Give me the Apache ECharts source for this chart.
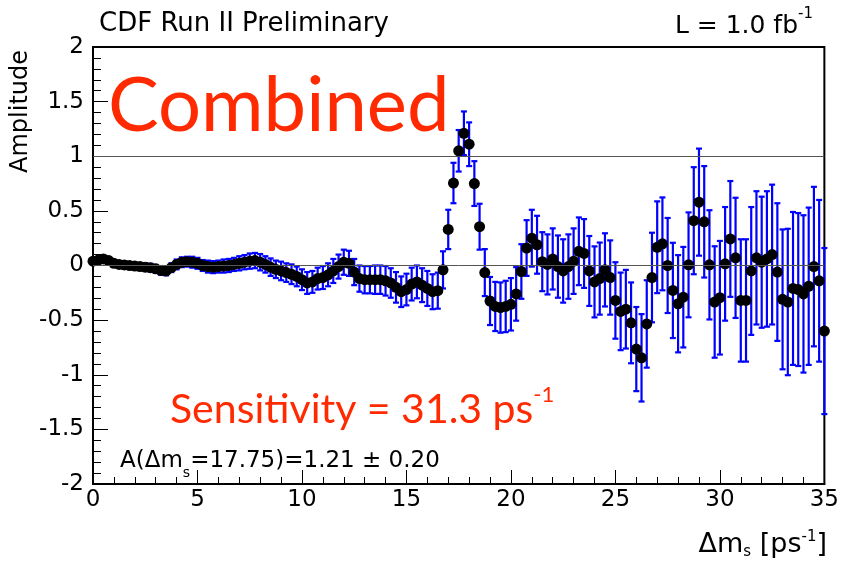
<!DOCTYPE html>
<html>
<head>
<meta charset="utf-8">
<script src="https://cdn.jsdelivr.net/npm/echarts@6/dist/echarts.min.js"></script>
<style>
html,body{margin:0;padding:0;background:#fff;}
#chart{width:842px;height:568px;}
</style>
</head>
<body>
<div id="chart"></div>
<script>
// Δm_s values (ps^-1)
const dms = [
  0.00,0.25,0.50,0.75,1.00,1.25,1.50,1.75,2.00,2.25,2.50,2.75,3.00,3.25,3.50,3.75,
  4.00,4.25,4.50,4.75,5.00,5.25,5.50,5.75,6.00,6.25,6.50,6.75,7.00,7.25,7.50,7.75,
  8.00,8.25,8.50,8.75,9.00,9.25,9.50,9.75,10.00,10.25,10.50,10.75,11.00,11.25,11.50,11.75,
  12.00,12.25,12.50,12.75,13.00,13.25,13.50,13.75,14.00,14.25,14.50,14.75,15.00,15.25,15.50,15.75,
  16.00,16.25,16.50,16.75,17.00,17.25,17.50,17.75,18.00,18.25,18.50,18.75,19.00,19.25,19.50,19.75,
  20.00,20.25,20.50,20.75,21.00,21.25,21.50,21.75,22.00,22.25,22.50,22.75,23.00,23.25,23.50,23.75,
  24.00,24.25,24.50,24.75,25.00,25.25,25.50,25.75,26.00,26.25,26.50,26.75,27.00,27.25,27.50,27.75,
  28.00,28.25,28.50,28.75,29.00,29.25,29.50,29.75,30.00,30.25,30.50,30.75,31.00,31.25,31.50,31.75,
  32.00,32.25,32.50,32.75,33.00,33.25,33.50,33.75,34.00,34.25,34.50,34.75,35.00
];
// Amplitude values
const amplitude = [
  0.04,0.05,0.06,0.045,0.02,0.01,0.005,0.0,-0.005,-0.01,-0.015,-0.02,-0.03,-0.045,-0.05,-0.02,
  0.01,0.03,0.035,0.03,0.02,0.0,-0.01,-0.015,-0.01,-0.005,0.0,0.01,0.02,0.03,0.04,0.045,
  0.03,0.01,-0.015,-0.035,-0.05,-0.065,-0.08,-0.1,-0.13,-0.16,-0.15,-0.12,-0.11,-0.085,-0.05,-0.01,
  0.03,0.02,-0.06,-0.12,-0.13,-0.13,-0.13,-0.13,-0.14,-0.16,-0.2,-0.24,-0.22,-0.17,-0.15,-0.18,
  -0.21,-0.24,-0.23,-0.04,0.33,0.755,1.05,1.21,1.11,0.75,0.355,-0.065,-0.325,-0.375,-0.385,-0.375,
  -0.355,-0.26,-0.055,0.16,0.25,0.19,0.035,0.01,0.06,-0.01,-0.05,-0.01,0.04,0.13,0.11,-0.05,
  -0.15,-0.12,-0.04,-0.11,-0.32,-0.42,-0.40,-0.525,-0.765,-0.845,-0.535,-0.11,0.167,0.198,0.0,-0.228,
  -0.35,-0.29,0.006,0.41,0.58,0.40,0.006,-0.334,-0.295,0.015,0.243,0.07,-0.32,-0.32,-0.05,0.07,
  0.03,0.06,0.10,-0.06,-0.31,-0.334,-0.21,-0.22,-0.26,-0.19,-0.01,-0.14,-0.60
];
// Amplitude uncertainties (±1σ)
const sigma = [
  0.02,0.02,0.02,0.025,0.025,0.025,0.03,0.03,0.03,0.03,0.035,0.035,0.035,0.04,0.04,0.04,
  0.045,0.045,0.045,0.05,0.05,0.05,0.055,0.055,0.055,0.06,0.06,0.06,0.065,0.065,0.07,0.07,
  0.075,0.075,0.08,0.08,0.085,0.085,0.09,0.09,0.095,0.1,0.1,0.1,0.105,0.105,0.11,0.11,
  0.115,0.115,0.12,0.12,0.125,0.125,0.13,0.13,0.135,0.135,0.14,0.14,0.145,0.15,0.15,0.155,
  0.16,0.16,0.165,0.17,0.18,0.185,0.19,0.20,0.2,0.205,0.21,0.215,0.22,0.225,0.23,0.235,
  0.24,0.245,0.25,0.255,0.26,0.265,0.27,0.275,0.28,0.285,0.29,0.295,0.3,0.31,0.315,0.32,
  0.325,0.33,0.335,0.34,0.35,0.355,0.36,0.37,0.385,0.40,0.40,0.41,0.42,0.425,0.435,0.436,
  0.445,0.46,0.48,0.49,0.49,0.51,0.50,0.51,0.52,0.52,0.53,0.55,0.56,0.56,0.585,0.61,
  0.60,0.62,0.64,0.63,0.64,0.67,0.70,0.70,0.72,0.72,0.73,0.74,0.76
];
// Reference lines
const refLines = [0, 1];

const points = dms.map((x, i) => [x, amplitude[i], sigma[i]]);

const FONT = 'DejaVu Sans, Liberation Sans, sans-serif';
const GFONT = 'Lato, Open Sans, sans-serif';
const RED = '#ff2a00';
const BLUE = '#0000ff';

const chart = echarts.init(document.getElementById('chart'), null, {renderer: 'canvas'});

chart.setOption({
  backgroundColor: '#ffffff',
  animation: false,
  grid: {left: 93, right: 17, top: 47, bottom: 84, show: true, borderColor: '#000', borderWidth: 2, backgroundColor: 'transparent'},
  xAxis: {
    type: 'value', min: 0, max: 35, interval: 5,
    axisLine: {show: true, onZero: false, lineStyle: {color: '#000', width: 2}},
    axisTick: {show: true, inside: true, length: 14, lineStyle: {color: '#000', width: 1}},
    minorTick: {show: true, splitNumber: 5, length: 7, lineStyle: {color: '#000', width: 1}},
    splitLine: {show: false},
    axisLabel: {color: '#000', fontSize: 23, fontFamily: FONT, margin: 5}
  },
  yAxis: {
    type: 'value', min: -2, max: 2, interval: 0.5,
    axisLine: {show: true, onZero: false, lineStyle: {color: '#000', width: 2}},
    axisTick: {show: true, inside: true, length: 15, lineStyle: {color: '#000', width: 1}},
    minorTick: {show: true, splitNumber: 5, length: 8, lineStyle: {color: '#000', width: 1}},
    splitLine: {show: false},
    axisLabel: {color: '#000', fontSize: 23, fontFamily: FONT, margin: 9}
  },
  series: [
    {
      type: 'custom',
      z: 2,
      data: points,
      renderItem: function (params, api) {
        const x = api.value(0), y = api.value(1), e = api.value(2);
        const top = api.coord([x, y + e]);
        const bot = api.coord([x, y - e]);
        const cx = top[0];
        const cw = 3;
        const st = {stroke: BLUE, lineWidth: 2.2};
        return {
          type: 'group',
          children: [
            {type: 'line', shape: {x1: cx, y1: top[1], x2: cx, y2: bot[1]}, style: st},
            {type: 'line', shape: {x1: cx - cw, y1: top[1], x2: cx + cw, y2: top[1]}, style: st},
            {type: 'line', shape: {x1: cx - cw, y1: bot[1], x2: cx + cw, y2: bot[1]}, style: st}
          ]
        };
      },
      markLine: {
        silent: true, symbol: 'none', label: {show: false},
        lineStyle: {color: '#555', width: 1, type: 'solid'},
        data: refLines.map(v => ({yAxis: v}))
      }
    },
    {
      type: 'scatter',
      z: 3,
      symbol: 'circle',
      symbolSize: 11,
      itemStyle: {color: '#000', opacity: 1},
      data: points.map(p => [p[0], p[1]])
    }
  ],
  graphic: [
    {type: 'text', left: 99, top: 11, style: {text: 'CDF Run II Preliminary', fontSize: 26, fontFamily: FONT, fill: '#000'}},
    {type: 'text', right: 29, top: 7, style: {
      text: '{a|L = 1.0 fb}{s|-1}', fill: '#000',
      rich: {a: {fontSize: 25, fontFamily: FONT, lineHeight: 32, verticalAlign: 'bottom'}, s: {fontSize: 15, fontFamily: FONT, lineHeight: 32, verticalAlign: 'top'}}
    }},
    {type: 'text', x: 21, y: 50, rotation: Math.PI / 2, style: {
      text: 'Amplitude', fontSize: 24, fontFamily: FONT, fill: '#000', textAlign: 'right', textVerticalAlign: 'middle'
    }},
    {type: 'text', left: 108, top: 68, style: {text: 'Combined', fontSize: 76, fontFamily: GFONT, fill: RED}},
    {type: 'text', left: 170, top: 384, style: {
      text: '{a|Sensitivity = 31.3 ps}{s|-1}', fill: RED,
      rich: {a: {fontSize: 41, fontFamily: GFONT, lineHeight: 46, verticalAlign: 'bottom'}, s: {fontSize: 22, fontFamily: GFONT, lineHeight: 46, verticalAlign: 'top'}}
    }},
    {type: 'text', left: 120, top: 450, style: {
      text: '{a|A(Δm}{b|s}{a|=17.75)=1.21 ± 0.20}', fill: '#000',
      rich: {a: {fontSize: 23, fontFamily: FONT, lineHeight: 30, verticalAlign: 'top'}, b: {fontSize: 14, fontFamily: FONT, lineHeight: 30, verticalAlign: 'bottom'}}
    }},
    {type: 'text', right: 15, top: 530, style: {
      text: '{a|Δm}{b|s}{a| [ps}{s|-1}{a|]}', fill: '#000',
      rich: {
        a: {fontSize: 27, fontFamily: FONT, lineHeight: 30, verticalAlign: 'middle'},
        b: {fontSize: 15, fontFamily: FONT, lineHeight: 30, verticalAlign: 'bottom'},
        s: {fontSize: 15, fontFamily: FONT, lineHeight: 30, verticalAlign: 'top'}
      }
    }}
  ]
});
</script>
</body>
</html>
